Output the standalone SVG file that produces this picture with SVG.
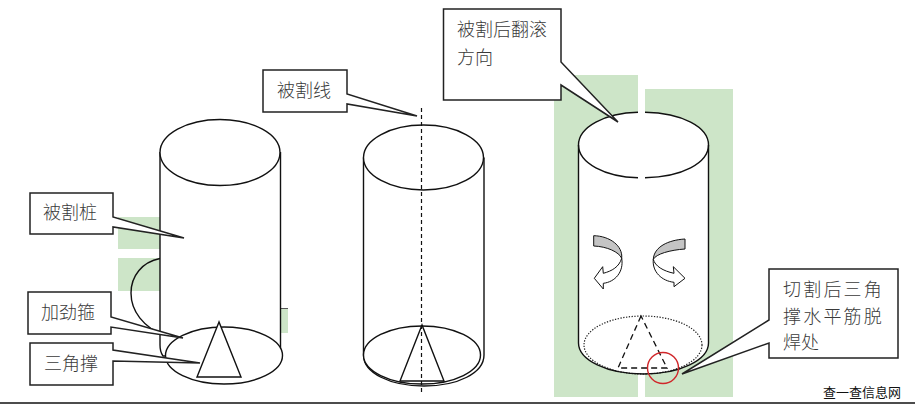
<svg xmlns="http://www.w3.org/2000/svg" width="915" height="404" viewBox="0 0 915 404">
<style>
.s{fill:none;stroke:#111;stroke-width:1.400}
.w{fill:#fff;stroke:#111;stroke-width:1.400}
.c{fill:#fff;stroke:#222;stroke-width:1.500;stroke-linejoin:miter}
.g{fill:#cde5c8}
.t{font-family:"Noto Sans CJK SC","Noto Sans",sans-serif;font-size:18px;fill:#3a3a3a;font-weight:300}
.t2{letter-spacing:2.2px}
</style>
<rect width="915" height="404" fill="#fff"/>
<g id="background-strips">
<rect class="g" x="118" y="217" width="44" height="32"/>
<rect class="g" x="118" y="258" width="44" height="33"/>
<rect class="g" x="280" y="308" width="8" height="25"/>
<path d="M281 308.500H288" stroke="#555" stroke-width="1"/>
<rect class="g" x="554" y="75" width="84" height="322"/>
<rect class="g" x="645" y="89" width="88" height="308"/>
</g>
<g id="pile-1">
<path class="s" d="M160 258.500C142 262 131 276 131 293C131 311 143 327 165 336"/>
<path class="w" d="M160 152V345Q160 352 163 356H278Q280.500 352 280.500 350V152"/>
<ellipse class="w" cx="220" cy="152.500" rx="60" ry="33"/>
</g>
<g id="pile-2">
<path class="w" d="M363.500 157.500V355C363.500 373 390 386 424 386C458 386 484 373 484 355V157.500"/>
<ellipse class="w" cx="423.500" cy="157.500" rx="60" ry="32.500"/>
<ellipse class="w" cx="422" cy="355" rx="58.500" ry="29"/>
<path class="w" d="M422 325L400 381H444Z"/>
<path d="M421.500 108V392" fill="none" stroke="#111" stroke-width="1.200" stroke-dasharray="4 3"/>
</g>
<g id="pile-3">
<ellipse cx="643.500" cy="145" rx="65" ry="33" fill="#fff"/>
<path d="M578.500 145V343C578.500 360 607 374 643.500 374C680 374 708.500 360 708.500 343V145H578.500Z" fill="#fff"/>
<rect x="638" y="374" width="7" height="24" fill="#fff"/>
<ellipse cx="643" cy="345" rx="59" ry="29" fill="none" stroke="#222" stroke-width="1.200" stroke-dasharray="1.300 1.500"/>
<path class="s" d="M578.500 145V343C578.500 360 607 374 643.500 374C680 374 708.500 360 708.500 343V145"/>
<path class="s" d="M638 112.300C605 113 578.500 127 578.500 145C578.500 163 605 177 638 177.700"/>
<path class="s" d="M645 112.300C682 113 708.500 127 708.500 145C708.500 163 682 177 645 177.700"/>
<path d="M641 316L618 368H667Z" fill="none" stroke="#111" stroke-width="1.300" stroke-dasharray="6 4"/>
<circle cx="663" cy="368" r="15.500" fill="none" stroke="#d0262a" stroke-width="1.400"/>
</g>
<g id="roll-arrow-left">
<path d="M593.700 235.700C610 236 623 246 621.700 258.300C619 252 607 246.500 593.700 246Z" fill="#c4c4c4" stroke="#111" stroke-width="1"/>
<path d="M621.700 258.300C619 267 612 271 603.300 273.300L602.700 266.700L594.300 278.300L603.300 289L603.300 283.300C615 282 624 272 621.700 258.300Z" fill="#fff" stroke="#111" stroke-width="1"/>
</g>
<g id="roll-arrow-right">
<path d="M685 239C668 240 654 247 653.300 259.300C656 254 670 250 685 249Z" fill="#c4c4c4" stroke="#111" stroke-width="1"/>
<path d="M653.300 259.300C655 266 663 271 674 273.300L673.300 266.700L685 278.300L674 286.700L674 282.300C662 281 652 272 653.300 259.300Z" fill="#fff" stroke="#111" stroke-width="1"/>
</g>
<g id="pile-1-base">
<ellipse class="w" cx="224" cy="355.500" rx="58.500" ry="28.500"/>
<path class="w" d="M219 322L197 377H241Z"/>
</g>
<g id="connectors">
<path d="M0 403H915" stroke="#111" stroke-width="1.500"/>
</g>
<g id="label-pile">
<path class="c" d="M30 193H113V217L184 238L113 227V234H30Z"/>
<text class="t" x="43" y="219">被割桩</text>
</g>
<g id="label-hoop">
<path class="c" d="M28 292H111V317L183 338L111 327V334H28Z"/>
<text class="t" x="41" y="319">加劲箍</text>
</g>
<g id="label-brace">
<path class="c" d="M30 343H113V350L200 363L113 361V385H30Z"/>
<text class="t" x="44" y="370">三角撑</text>
</g>
<g id="label-cutline">
<path class="c" d="M263 70H347V94L417 116L347 104V112H263Z"/>
<text class="t" x="277" y="97">被割线</text>
</g>
<g id="label-direction">
<path class="c" d="M443.500 9H561V62L618 122L561 85V100H443.500Z"/>
<text class="t" x="457" y="36">被割后翻滚</text>
<text class="t" x="457" y="64">方向</text>
</g>
<g id="label-weld">
<path class="c" d="M769 269H898V358H769V343L682 374L769 320Z"/>
<text class="t t2" x="783" y="296">切割后三角</text>
<text class="t t2" x="783" y="323">撑水平筋脱</text>
<text class="t" x="783" y="349">焊处</text>
</g>
<text id="watermark" x="823" y="397" font-family="'Noto Sans CJK SC',sans-serif" font-size="13px" fill="#111">查一查信息网</text>
</svg>
